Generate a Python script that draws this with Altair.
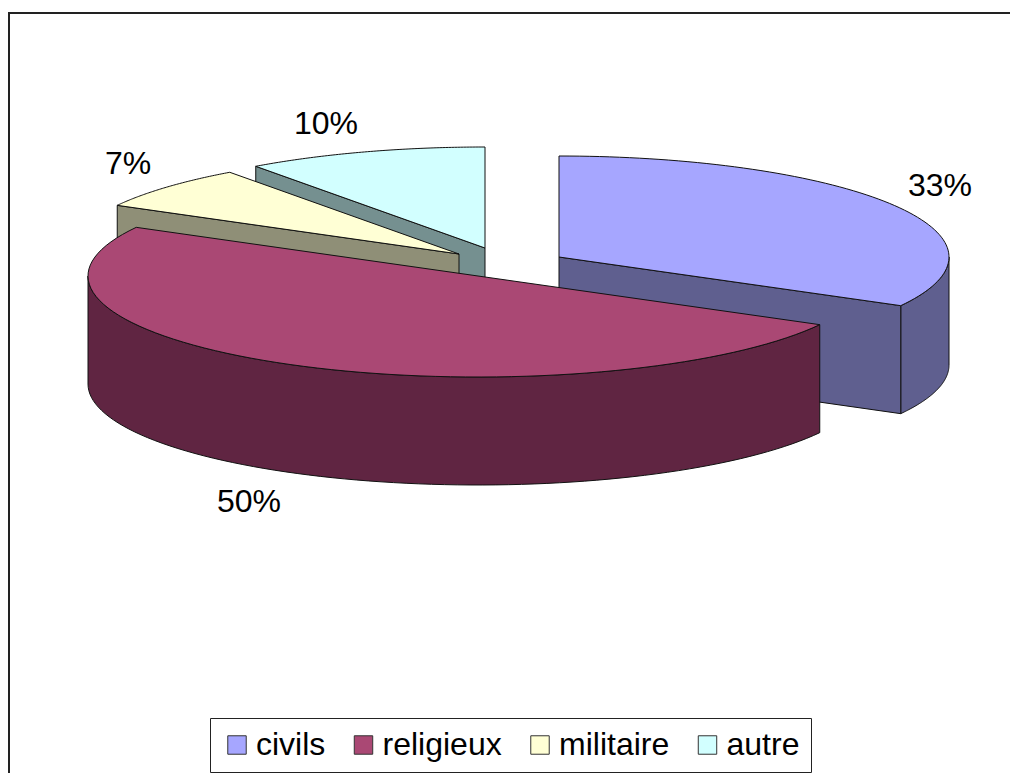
import math
import altair as alt
import pandas as pd

categories = ["civils", "religieux", "militaire", "autre"]
shares = [33, 50, 7, 10]
top_colors = ["#A6A6FF", "#AA4874", "#FFFFD5", "#D2FFFF"]
wall_colors = ["#5F5F8F", "#602542", "#8F8F77", "#759090"]
# slice tips after the explosion
tip_x = [559, 478, 459, 485]
tip_y = [257, 276, 254, 248]
label_x = [940, 249, 128, 326]
label_y = [186, 502, 164, 124]
RX, RY, DEPTH = 390, 101, 108

starts = [sum(shares[:i]) / 100 for i in range(4)]
ends = [sum(shares[:i + 1]) / 100 for i in range(4)]


def rim(i, t, z=0):
    a = 2 * math.pi * t
    return (tip_x[i] + RX * math.sin(a), tip_y[i] - RY * math.cos(a) + z)


def arc(i, t0, t1, z=0, n=80):
    return [rim(i, t0 + (t1 - t0) * k / n, z) for k in range(n + 1)]


def frame(points, name):
    pts = points + [points[0]]
    return pd.DataFrame({"x": [p[0] for p in pts], "y": [p[1] for p in pts],
                         "k": range(len(pts)), "serie": name})


X = alt.X("x:Q", scale=alt.Scale(domain=[8, 1010]), axis=None)
Y = alt.Y("y:Q", scale=alt.Scale(domain=[773, 8]), axis=None)


def top(i):
    pts = [(tip_x[i], tip_y[i])] + arc(i, starts[i], ends[i])
    fill = alt.Fill("serie:N", scale=alt.Scale(domain=categories, range=top_colors),
                    legend=alt.Legend(title=None, orient="none", legendX=202, legendY=710,
                                      direction="horizontal", symbolType="square",
                                      symbolSize=340, symbolStrokeColor="#333333",
                                      symbolStrokeWidth=1, symbolOpacity=1,
                                      labelFont="Liberation Sans", labelFontSize=32,
                                      labelColor="black", labelOffset=3, columnPadding=21.5,
                                      labelLimit=300, strokeColor="#222222", fillColor="white",
                                      padding=11))
    return alt.Chart(frame(pts, categories[i])).mark_line(
        stroke="#111111", strokeWidth=1, strokeJoin="round", interpolate="linear"
    ).encode(x=X, y=Y, order="k:Q", fill=fill)


def side(i, pts):
    return alt.Chart(frame(pts, categories[i])).mark_line(
        stroke="#111111", strokeWidth=1, strokeJoin="round", interpolate="linear"
    ).encode(x=X, y=Y, order="k:Q", fill=alt.value(wall_colors[i]))


def face(i, t):
    e, e2 = rim(i, t), rim(i, t, DEPTH)
    return [(tip_x[i], tip_y[i]), e, e2, (tip_x[i], tip_y[i] + DEPTH)]


def outer(i, t0, t1):
    return arc(i, t0, t1) + arc(i, t1, t0, DEPTH)


layers = [
    side(3, face(3, starts[3])), top(3),
    side(2, face(2, starts[2])), top(2),
    side(0, outer(0, 0.25, ends[0])), side(0, face(0, ends[0])), top(0),
    side(1, outer(1, starts[1], 0.75)), top(1),
]

labels = pd.DataFrame({"x": label_x, "y": label_y,
                       "t": [f"{s}%" for s in shares]})
text = alt.Chart(labels).mark_text(
    font="Liberation Sans", fontSize=32, color="black", align="center", baseline="middle"
).encode(x=X, y=Y, text="t:N")

edge_top = alt.Chart(pd.DataFrame({"a": [0]})).mark_rule(color="#222222", strokeWidth=2).encode(
    x=alt.value(0), x2=alt.value(1002), y=alt.value(5))
edge_left = alt.Chart(pd.DataFrame({"a": [0]})).mark_rule(color="#222222", strokeWidth=2).encode(
    x=alt.value(1), y=alt.value(4), y2=alt.value(765))

chart = alt.layer(edge_top, edge_left, *layers, text).properties(
    width=1002, height=765, padding=0, autosize=alt.AutoSizeParams(type="none")
).configure_view(stroke=None)

chart.save("out.html", embed_options={"renderer": "svg", "actions": False})
